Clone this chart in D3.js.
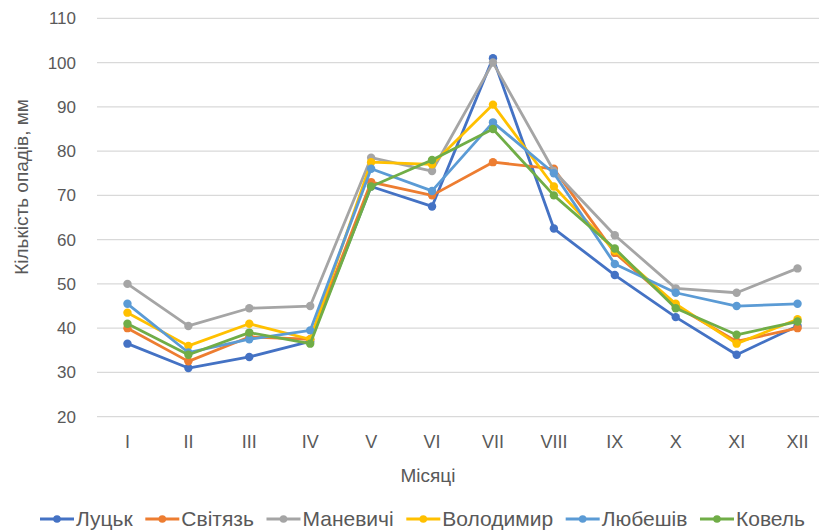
<!DOCTYPE html>
<html><head><meta charset="utf-8">
<script src="https://cdn.jsdelivr.net/npm/d3@7"></script>
<style>body{margin:0;background:#fff;}svg{display:block;}</style>
</head><body>
<svg id="c" width="819" height="530"></svg>
<script>
const months = ["I","II","III","IV","V","VI","VII","VIII","IX","X","XI","XII"];
const seriesNames = ["Луцьк","Світязь","Маневичі","Володимир","Любешів","Ковель"];
const seriesColors = ["#4472C4","#ED7D31","#A5A5A5","#FFC000","#5B9BD5","#70AD47"];
const lutsk     = [36.5, 31.0, 33.5, 37.0, 72.0, 67.5, 101.0, 62.5, 52.0, 42.5, 34.0, 40.5];
const svitiaz   = [40.0, 32.5, 38.0, 37.5, 73.0, 70.0, 77.5, 76.0, 57.0, 45.0, 37.0, 40.0];
const manevychi = [50.0, 40.5, 44.5, 45.0, 78.5, 75.5, 100.0, 75.5, 61.0, 49.0, 48.0, 53.5];
const volodymyr = [43.5, 36.0, 41.0, 37.5, 77.5, 77.0, 90.5, 72.0, 57.5, 45.5, 36.5, 42.0];
const liubeshiv = [45.5, 34.5, 37.5, 39.5, 76.0, 71.0, 86.5, 75.0, 54.5, 48.0, 45.0, 45.5];
const kovel     = [41.0, 34.0, 39.0, 36.5, 72.0, 78.0, 85.0, 70.0, 58.0, 44.5, 38.5, 41.5];
const yTicks = [20,30,40,50,60,70,80,90,100,110];
const yTitle = "Кількість опадів, мм";
const xTitle = "Місяці";

const allSeries = [lutsk, svitiaz, manevychi, volodymyr, liubeshiv, kovel];
const svg = d3.select("#c");
const font = "'Liberation Sans', Arial, sans-serif";
const textCol = "#595959";

const x = d3.scaleBand().domain(months).range([97, 828]);
const y = d3.scaleLinear().domain([20,110]).range([416.7, 18.3]);

// gridlines
svg.append("g").selectAll("line").data(yTicks).join("line")
  .attr("x1", 97).attr("x2", 819)
  .attr("y1", d=>y(d)).attr("y2", d=>y(d))
  .attr("stroke", "#d9d9d9").attr("stroke-width", 1.2);

// y axis labels
const yAxis = svg.append("g").attr("transform","translate(76,0)")
  .call(d3.axisLeft(y).tickValues(yTicks).tickSize(0).tickPadding(0));
yAxis.select(".domain").remove();
yAxis.selectAll("text").attr("font-family", font).attr("font-size", 17).attr("fill", textCol);

// x axis labels
const xAxis = svg.append("g").attr("transform","translate(0,430)")
  .call(d3.axisBottom(x).tickSize(0).tickPadding(0));
xAxis.select(".domain").remove();
xAxis.selectAll("text").attr("dy", null).attr("y", 18).attr("font-family", font).attr("font-size", 18).attr("fill", textCol);

// titles
svg.append("text").attr("x", 428).attr("y", 482).attr("text-anchor","middle")
  .attr("font-family", font).attr("font-size", 19).attr("fill", textCol).text(xTitle);
svg.append("text").attr("transform","translate(28,187) rotate(-90)").attr("text-anchor","middle")
  .attr("font-family", font).attr("font-size", 19).attr("fill", textCol).text(yTitle);

// lines
const line = d3.line().x((d,i)=>x(months[i]) + x.bandwidth()/2).y(d=>y(d));
const g = svg.append("g");
allSeries.forEach((vals, si) => {
  g.append("path").datum(vals).attr("d", line).attr("fill","none")
    .attr("stroke", seriesColors[si]).attr("stroke-width", 2.8).attr("stroke-linejoin","round");
  g.append("g").selectAll("circle").data(vals).join("circle")
    .attr("cx", (d,i)=>x(months[i]) + x.bandwidth()/2).attr("cy", d=>y(d)).attr("r", 4.2)
    .attr("fill", seriesColors[si]);
});

// legend: fit between x=40 and x=805
const leg = svg.append("g");
const ly = 519, lineLen = 34, txtGap = 2, startX = 40, endX = 805;
const items = seriesNames.map((name, si) => {
  const it = leg.append("g");
  it.append("line").attr("x1", 0).attr("x2", lineLen).attr("y1", ly).attr("y2", ly)
    .attr("stroke", seriesColors[si]).attr("stroke-width", 2.8);
  it.append("circle").attr("cx", lineLen/2).attr("cy", ly).attr("r", 3.8).attr("fill", seriesColors[si]);
  const t = it.append("text").attr("x", lineLen+txtGap).attr("y", ly+7).attr("font-family", font)
    .attr("font-size", 21).attr("fill", textCol).text(name);
  return {it, w: lineLen + txtGap + t.node().getComputedTextLength()};
});
const totalW = d3.sum(items, d=>d.w);
const gap = (endX - startX - totalW) / (items.length - 1);
let cx = startX;
items.forEach(d => { d.it.attr("transform", `translate(${cx},0)`); cx += d.w + gap; });
</script>
</body></html>
